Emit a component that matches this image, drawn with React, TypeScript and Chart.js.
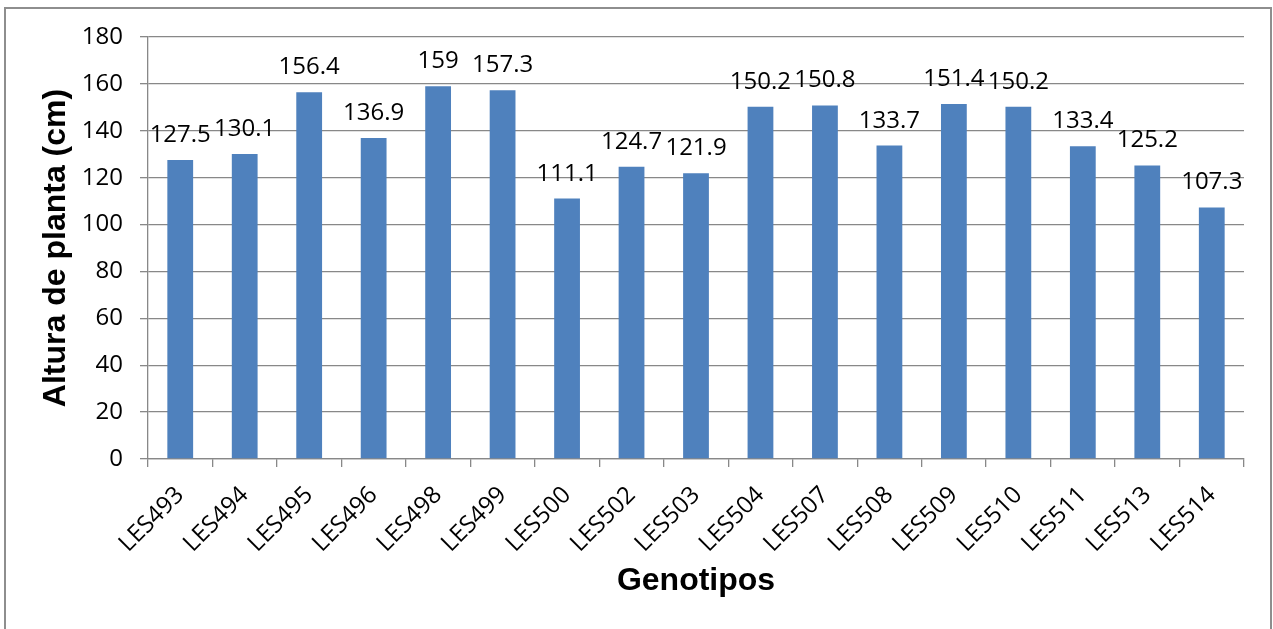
import React, { useEffect, useRef } from "react";
import { Chart, registerables } from "chart.js";

Chart.register(...registerables);

// Genotypes and mean plant height (cm)
const genotipos: string[] = [
  "LES493", "LES494", "LES495", "LES496", "LES498", "LES499", "LES500", "LES502",
  "LES503", "LES504", "LES507", "LES508", "LES509", "LES510", "LES511", "LES513", "LES514",
];
const alturas: number[] = [
  127.5, 130.1, 156.4, 136.9, 159, 157.3, 111.1, 124.7,
  121.9, 150.2, 150.8, 133.7, 151.4, 150.2, 133.4, 125.2, 107.3,
];
const yMin = 0;
const yMax = 180;
const yStep = 20;

const W = 1273;
const H = 629;
const GRID = "#888888";
const BAR = "#4F81BD";
const TICK_FONT = "'Open Sans', 'DejaVu Sans', sans-serif";
const TITLE_FONT = "'Liberation Sans', Arial, sans-serif";

// Prints each bar's value just above it
const valueLabels = {
  id: "valueLabels",
  afterDatasetsDraw(chart: any) {
    const { ctx } = chart;
    const meta = chart.getDatasetMeta(0);
    const data = chart.data.datasets[0].data as number[];
    ctx.save();
    ctx.font = `24px ${TICK_FONT}`;
    ctx.fillStyle = "#000";
    ctx.textAlign = "center";
    ctx.textBaseline = "alphabetic";
    meta.data.forEach((bar: any, i: number) => {
      ctx.fillText(String(data[i]), bar.x, bar.y - 18);
    });
    ctx.restore();
  },
};

export default function App() {
  const canvasRef = useRef<HTMLCanvasElement | null>(null);

  useEffect(() => {
    const canvas = canvasRef.current;
    if (!canvas) return;
    const chart = new Chart(canvas, {
      type: "bar",
      data: {
        labels: genotipos,
        datasets: [
          {
            data: alturas,
            backgroundColor: BAR,
            borderWidth: 0,
            barPercentage: 0.8,
            categoryPercentage: 0.5,
          },
        ],
      },
      options: {
        responsive: false,
        animation: false,
        devicePixelRatio: 1,
        layout: { padding: { top: 37, right: 29, left: 0, bottom: 0 } },
        plugins: {
          legend: { display: false },
          tooltip: { enabled: false },
        },
        scales: {
          x: {
            grid: {
              offset: true,
              drawOnChartArea: false,
              drawTicks: true,
              tickLength: 8,
              color: GRID,
              lineWidth: 1.3,
            },
            border: { color: GRID, width: 1.3 },
            ticks: {
              color: "#000",
              font: { family: TICK_FONT, size: 24 },
              minRotation: 45,
              maxRotation: 45,
              padding: 14,
              autoSkip: false,
            },
            title: {
              display: true,
              text: "Genotipos",
              color: "#000",
              font: { family: TITLE_FONT, size: 32, weight: "bold" },
              padding: { top: 0, bottom: 29 },
            },
            afterFit(scale: any) {
              scale.height = H - 459;
            },
          },
          y: {
            min: yMin,
            max: yMax,
            ticks: {
              stepSize: yStep,
              color: "#000",
              font: { family: TICK_FONT, size: 24 },
              padding: 17,
            },
            grid: { color: GRID, lineWidth: 1.3, tickLength: 8 },
            border: { color: GRID, width: 1.3 },
            title: {
              display: true,
              text: "Altura de planta (cm)",
              color: "#000",
              font: { family: TITLE_FONT, size: 32, weight: "bold" },
              padding: { top: 37, bottom: 0 },
            },
            afterFit(scale: any) {
              scale.width = 148;
            },
          },
        },
      },
      plugins: [valueLabels],
    });
    return () => chart.destroy();
  }, []);

  return (
    <div style={{ position: "fixed", left: 0, top: 0, width: W, height: H, background: "#fff", overflow: "hidden" }}>
      <div
        style={{
          position: "absolute",
          left: 4,
          top: 7,
          width: 1264,
          height: 660,
          border: "2px solid #8e8e8e",
        }}
      />
      <canvas ref={canvasRef} width={W} height={H} style={{ position: "absolute", left: 0, top: 0, width: W, height: H }} />
    </div>
  );
}
